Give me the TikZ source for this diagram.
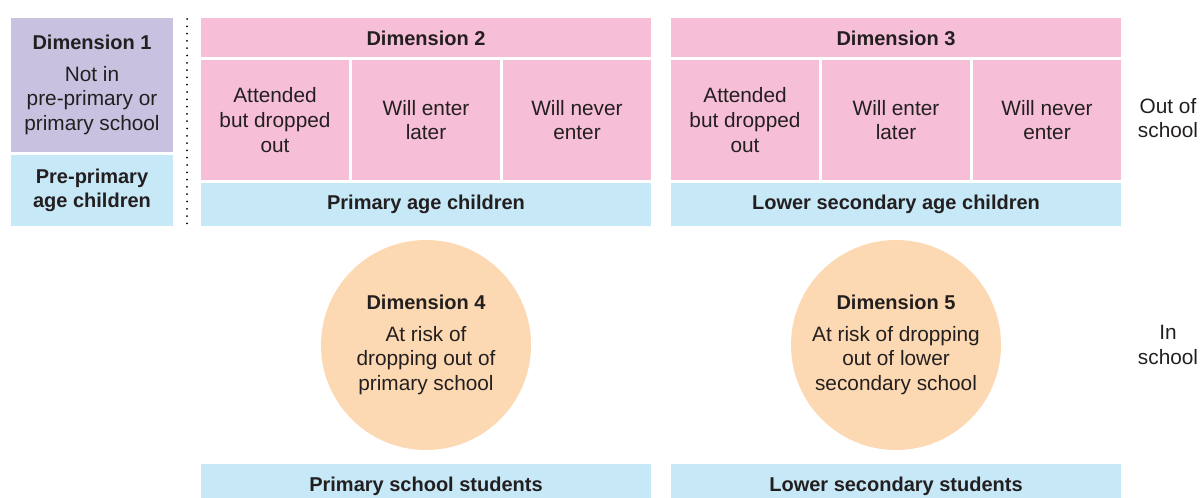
\documentclass[tikz,border=0pt]{standalone}
\usepackage{fontspec}
\setmainfont{Liberation Sans}
\usetikzlibrary{positioning}

\definecolor{dimlilac}{HTML}{C8C2E0}
\definecolor{dimpink}{HTML}{F6BFD7}
\definecolor{agesky}{HTML}{C6E8F7}
\definecolor{riskpeach}{HTML}{FCD9B2}
\definecolor{textgrey}{HTML}{231F20}

\begin{document}
\begin{tikzpicture}[
    x=0.5pt,
    y=-0.5pt,
    every node/.style={text=textgrey,font=\fontsize{10.4}{12.3}\selectfont,inner sep=0pt,align=center},
    first node/.style={rectangle,fill=dimlilac,minimum width=81pt,minimum height=67pt},
    head node/.style={rectangle,fill=dimpink,minimum width=225pt,minimum height=19.5pt,font=\fontsize{10}{12.3}\selectfont\bfseries},
    sub node/.style={rectangle,fill=dimpink,minimum width=74pt,minimum height=60pt},
    age node/.style={rectangle,fill=agesky,minimum height=21.5pt,font=\fontsize{10}{12.3}\selectfont\bfseries},
    risk node/.style={circle,fill=riskpeach,minimum size=105pt},
    side label/.style={font=\fontsize{10.4}{12.3}\selectfont}
]
\useasboundingbox (0,0) rectangle (1202,497);

% Dimension 1
\node[first node] (dimone) at (92,85) {\textbf{\fontsize{10}{12.3}\selectfont Dimension 1}\\[3.5pt]Not in\\pre-primary or\\primary school};
\node[age node, minimum width=81pt, minimum height=35.5pt] (preage) at (92,190.5) {Pre-primary\\age children};

% Separator
\coordinate (septop) at (187,19);
\coordinate (sepbot) at (187,226);
\draw[line width=1pt,line cap=round,dash pattern=on 0pt off 3.65pt] (septop) -- (sepbot);

% Dimension 2
\node[head node] (dimtwo) at (426,38) {Dimension 2};
\node[sub node] (pridrop) at (275,120) {Attended\\but dropped\\out};
\node[sub node] (prilater) at (426,120) {Will enter\\later};
\node[sub node] (prinever) at (577,120) {Will never\\enter};
\node[age node, minimum width=225pt] (priage) at (426,204.5) {Primary age children};

% Dimension 3
\node[head node] (dimthree) at (896,38) {Dimension 3};
\node[sub node] (secdrop) at (745,120) {Attended\\but dropped\\out};
\node[sub node] (seclater) at (896,120) {Will enter\\later};
\node[sub node] (secnever) at (1047,120) {Will never\\enter};
\node[age node, minimum width=225pt] (secage) at (896,204.5) {Lower secondary age children};

% Dimensions 4 and 5
\node[risk node] (dimfour) at (426,345) {\textbf{\fontsize{10}{12.3}\selectfont Dimension 4}\\[3.5pt]At risk of\\dropping out of\\primary school};
\node[risk node] (dimfive) at (896,345) {\textbf{\fontsize{10}{12.3}\selectfont Dimension 5}\\[3.5pt]At risk of dropping\\out of lower\\secondary school};

% Students
\node[age node, minimum width=225pt, minimum height=22pt, anchor=north] (pristud) at (426,464) {Primary school students};
\node[age node, minimum width=225pt, minimum height=22pt, anchor=north] (secstud) at (896,464) {Lower secondary students};

% Side labels
\node[side label] (outlabel) at (1168,118) {Out of\\school};
\node[side label] (inlabel) at (1168,345) {In\\school};

\end{tikzpicture}
\end{document}
